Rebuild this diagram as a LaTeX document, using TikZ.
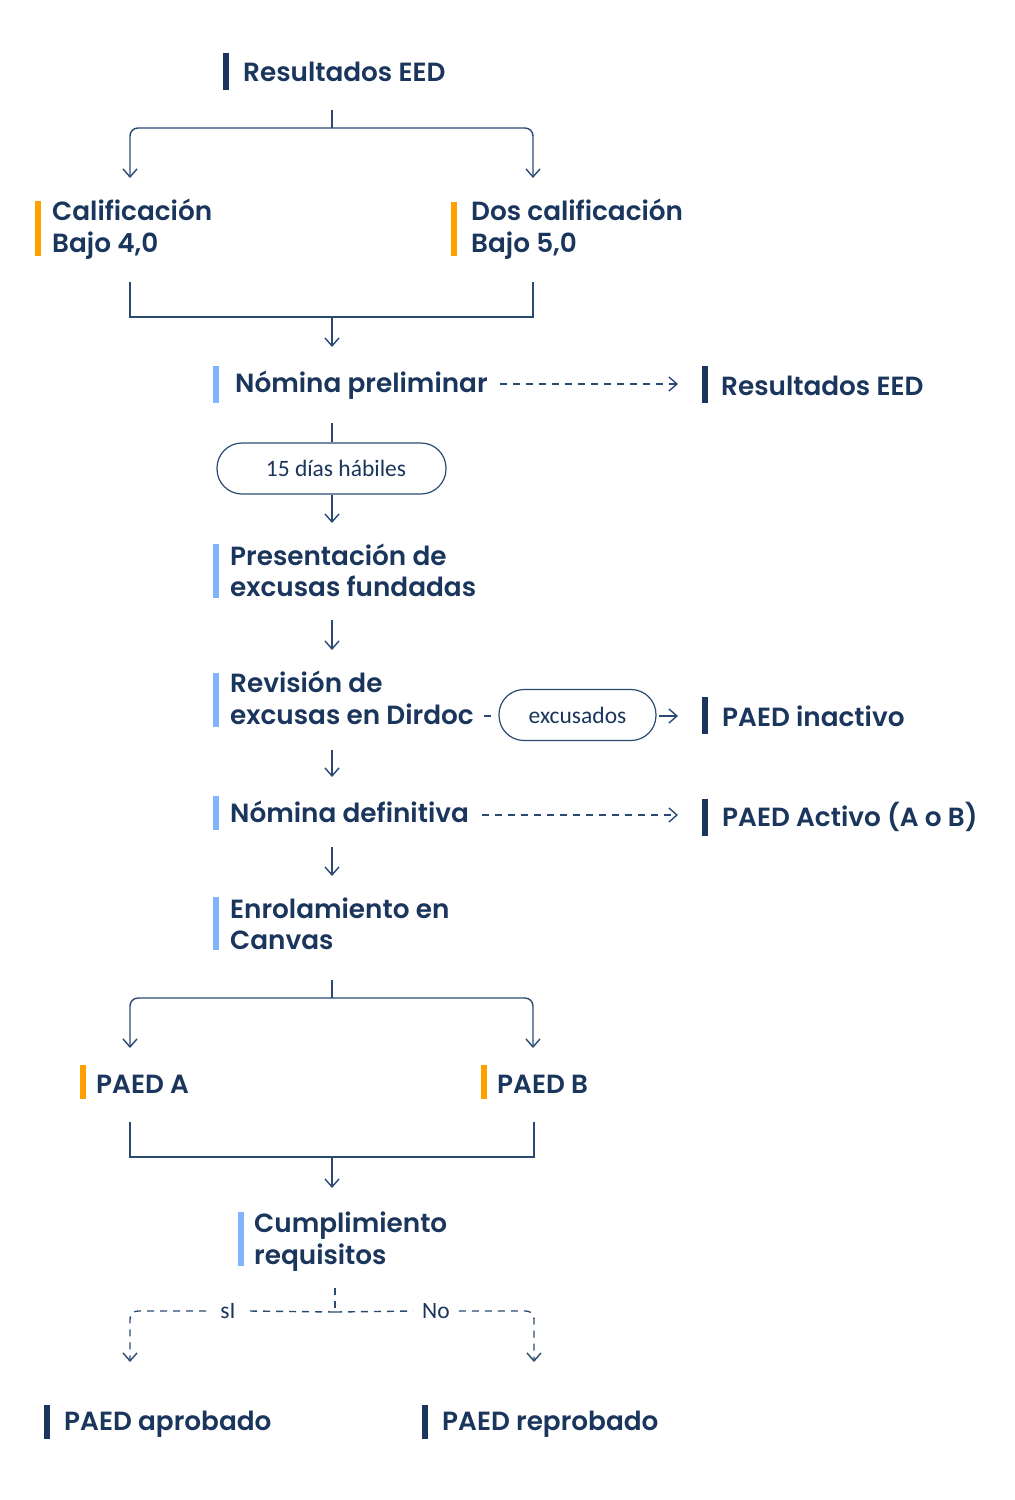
\documentclass[tikz,border=0pt]{standalone}
\usepackage{fontspec}
\setmainfont{Poppins}[BoldFont={Poppins SemiBold}]
\newfontfamily\smallf{Carlito}
\usetikzlibrary{arrows.meta}
\definecolor{navy}{HTML}{1B365D}
\definecolor{lnc}{HTML}{2A4A72}
\definecolor{org}{HTML}{FFA000}
\definecolor{lblue}{HTML}{80B4FF}
\tikzset{
  lbl/.style={anchor=west, inner sep=0pt, text=navy, font=\fontsize{26.3}{32}\selectfont\bfseries, align=left},
  smalltxt/.style={font=\smallf\fontsize{23.5}{26}\selectfont, text=navy},
  pill/.style={draw=lnc, line width=1.2pt, rounded corners=25pt, smalltxt},
  ln/.style={draw=lnc, line width=1.4pt},
  arr/.style={ln, -{Straight Barb[length=8pt,width=14pt,line width=1.4pt]}},
  dsh/.style={ln, dash pattern=on 7pt off 6pt},
  darr/.style={dsh, -{Straight Barb[length=8pt,width=14pt,line width=1.4pt]}},
}
\begin{document}
\begin{tikzpicture}[x=1pt,y=-1pt]
\fill[white] (0,0) rectangle (1015,1500);

% bars
\fill[navy]  (223,53) rectangle (229,90);
\fill[org]   (35,201) rectangle (41,256);
\fill[org]   (451,202) rectangle (457,256);
\fill[lblue] (213,366) rectangle (219,403);
\fill[navy]  (702,366) rectangle (708,403);
\fill[lblue] (213,544) rectangle (219,598);
\fill[lblue] (213,673) rectangle (219,727);
\fill[navy]  (702,697) rectangle (708,734);
\fill[lblue] (213,796) rectangle (219,830);
\fill[navy]  (702,799) rectangle (708,836);
\fill[lblue] (213,897) rectangle (219,950);
\fill[org]   (80,1065) rectangle (86,1099);
\fill[org]   (481,1065) rectangle (487,1099);
\fill[lblue] (238,1212) rectangle (244,1266);
\fill[navy]  (44,1405) rectangle (50,1439);
\fill[navy]  (422,1405) rectangle (428,1439);

% labels
\node[lbl] (res) at (243,72) {Resultados EED};
\node[lbl] (cal) at (52,229) {Calificación\\Bajo 4,0};
\node[lbl] (dos) at (471,229) {Dos calificación\\Bajo 5,0};
\node[lbl] (nprel) at (235,385) {Nómina preliminar};
\node[lbl] (res2) at (721,386) {Resultados EED};
\node[pill, minimum width=229pt, minimum height=51pt] (dias) at (331.5,468.5) {\hspace*{9pt}15 días hábiles};
\node[lbl, font=\fontsize{26.3}{31}\selectfont\bfseries] (pres) at (230,570.5) {Presentación de\\excusas fundadas};
\node[lbl] (rev) at (230,698) {Revisión de\\excusas en Dirdoc};
\node[pill, minimum width=157pt, minimum height=51pt] (exc) at (577.5,715) {excusados};
\node[lbl] (inac) at (722,716) {PAED inactivo};
\node[lbl] (ndef) at (230,812) {Nómina definitiva};
\node[lbl] (act) at (722,817) {PAED Activo (A o B)};
\node[lbl, font=\fontsize{26.3}{31}\selectfont\bfseries] (enr) at (230,924) {Enrolamiento en\\Canvas};
\node[lbl] (pa) at (96,1084) {PAED A};
\node[lbl] (pb) at (497,1084) {PAED B};
\node[lbl] (cum) at (254,1242) {Cumplimiento\\requisitos};
\node[lbl] (apr) at (64,1424) {PAED aprobado};
\node[lbl] (rep) at (442,1424) {PAED reprobado};

% coordinates
\coordinate (s1) at (332,110);
\coordinate (j1) at (332,128);
\coordinate (a1) at (130,178);
\coordinate (a2) at (533,178);
\coordinate (b1) at (130,282);
\coordinate (b2) at (533,282);
\coordinate (m1) at (332,317);
\coordinate (e1) at (332,347);
\coordinate (d1) at (500,384);
\coordinate (d1e) at (678,384);
\coordinate (s2) at (332,423);
\coordinate (e2) at (332,523);
\coordinate (s3) at (332,620);
\coordinate (e3) at (332,650);
\coordinate (x1) at (484,716);
\coordinate (x1e) at (491,716);
\coordinate (x2) at (659,716);
\coordinate (x2e) at (678,716);
\coordinate (s4) at (332,750);
\coordinate (e4) at (332,777);
\coordinate (d2) at (482,815);
\coordinate (d2e) at (678,815);
\coordinate (s5) at (332,847);
\coordinate (e5) at (332,876);
\coordinate (s6) at (332,980);
\coordinate (j6) at (332,998);
\coordinate (a6) at (130,1048);
\coordinate (a7) at (533,1048);
\coordinate (b6) at (130,1122);
\coordinate (b7) at (534,1122);
\coordinate (m6) at (332,1157);
\coordinate (e6) at (332,1188);
\coordinate (s7) at (335,1288);
\coordinate (j7) at (335,1312);
\coordinate (a8) at (130,1362);
\coordinate (a9) at (534,1362);

% connectors
\draw[ln] (s1) -- (j1);
\draw[arr, rounded corners=8pt] (j1) -| (a1);
\draw[arr, rounded corners=8pt] (j1) -| (a2);
\draw[ln] (b1) |- (m1) -| (b2);
\draw[arr] (m1) -- (e1);
\draw[darr] (d1) -- (d1e);
\draw[ln] (s2) -- (dias.north -| s2);
\draw[arr] (dias.south -| s2) -- (e2);
\draw[arr] (s3) -- (e3);
\draw[ln] (x1) -- (x1e);
\draw[arr] (x2) -- (x2e);
\draw[arr] (s4) -- (e4);
\draw[darr] (d2) -- (d2e);
\draw[arr] (s5) -- (e5);
\draw[ln] (s6) -- (j6);
\draw[arr, rounded corners=8pt] (j6) -| (a6);
\draw[arr, rounded corners=8pt] (j6) -| (a7);
\draw[ln] (b6) |- (m6) -| (b7);
\draw[arr] (m6) -- (e6);

% si / no
\draw[dsh] (s7) -- (j7);
\node[smalltxt, inner xsep=14pt] (si) at (228,1311) {sI};
\node[smalltxt, inner xsep=9pt] (no) at (436,1311) {No};
\draw[dsh] (j7) -- (si.east);
\draw[darr, rounded corners=8pt] (si.west) -| (a8);
\draw[dsh] (j7) -- (no.west);
\draw[darr, rounded corners=8pt] (no.east) -| (a9);
\end{tikzpicture}
\end{document}
